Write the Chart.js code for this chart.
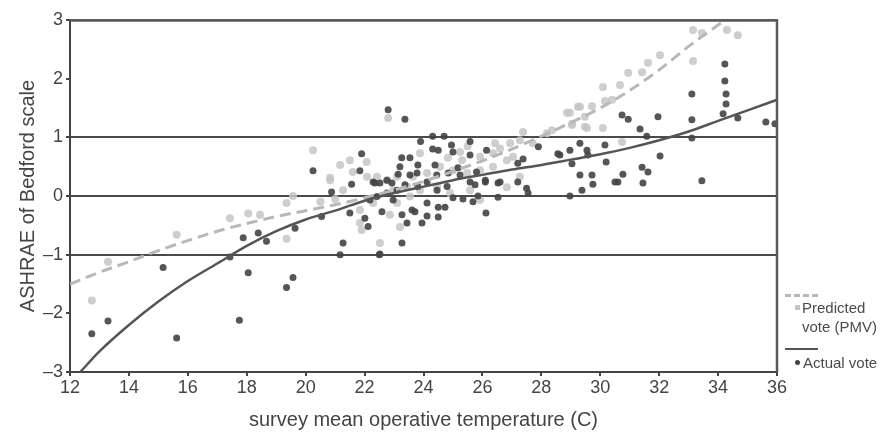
<!DOCTYPE html>
<html>
<head>
<meta charset="utf-8">
<script src="https://cdn.jsdelivr.net/npm/chart.js@4.4.0/dist/chart.umd.min.js"></script>
<style>
  html, body { margin: 0; padding: 0; background: #fff; }
  #wrap { position: relative; width: 893px; height: 434px; }
  canvas { display: block; }
  .lg { position: absolute; font-family: "Liberation Sans", Arial, sans-serif; font-size: 15px; color: #4a4a4a; line-height: 19px; }
  .ln { position: absolute; height: 0; }
  #topframe { position: absolute; left: 70px; top: 19px; width: 708px; height: 2px; background: #5a5a5a; }
</style>
</head>
<body>
<div id="wrap">
  <canvas id="c" width="893" height="434"></canvas>
  <div id="topframe"></div>
  <div class="ln" style="left:785px; top:294px; width:33px; border-top:3px dashed #b8b8b8;"></div>
  <div class="ln" style="left:795px; top:305px; width:5px; height:5px; background:#c4c4c4;"></div>
  <div class="lg" style="left:802px; top:298px;">Predicted<br>vote (PMV)</div>
  <div class="ln" style="left:785px; top:348px; width:33px; border-top:2px solid #555;"></div>
  <div class="ln" style="left:795px; top:360px; width:5px; height:5px; border-radius:3px; background:#444;"></div>
  <div class="lg" style="left:803px; top:353px;">Actual vote</div>
</div>
<script>
// ---- data ----
const xTicks = [12, 14, 16, 18, 20, 22, 24, 26, 28, 30, 32, 34, 36];
const yTicks = [-3, -2, -1, 0, 1, 2, 3];

const pmvX = [12.74,13.29,15.62,17.43,18.05,18.45,19.35,19.35,19.57,20.25,20.83,21.17,21.5,22.07,21.6,21.84,21.9,21.27,
  28.97,29.31,29.04,29.55,29.72,30.09,30.16,30.09,30.4,30.67,30.95,31.42,31.62,32.03,33.15,33.15,33.45,34.3,34.67,30.74,
  28.36,29.24,28.87,29.48,29.48,29.04,28.19,27.38,26.94,26.6,26.36,25.92,25.31,24.83,25.24,24.56,23.88,26.83,27.04,27.27,
  26.36,25.92,25.48,25.0,24.12,23.64,23.1,22.76,22.42,22.08,20.83,26.83,25.92,24.46,23.88,23.44,22.97,22.52,23.2,22.86,
  26.43,27.71,24.9,25.58,27.27,23.54,23.1,22.29,21.84,22.8,20.5,21.0,25.5];
const pmvY = [-1.78,-1.12,-0.66,-0.38,-0.3,-0.32,-0.73,-0.12,0.0,0.78,0.31,0.53,0.61,0.58,0.41,-0.24,-0.58,0.1,
  1.42,1.52,1.23,1.16,1.53,1.86,1.62,1.16,1.64,1.89,2.1,2.11,2.27,2.4,2.3,2.83,2.78,2.83,2.74,0.92,
  1.12,1.52,1.42,1.35,1.18,1.21,1.07,1.09,0.9,0.81,0.73,0.67,0.61,0.65,0.75,0.5,0.73,0.61,0.67,0.95,
  0.5,0.44,0.39,0.44,0.39,0.33,0.33,0.27,0.33,0.33,0.27,0.15,-0.07,0.16,0.1,0.16,0.1,-0.8,-0.53,-0.32,
  0.9,0.9,0.05,0.1,0.33,-0.01,-0.12,-0.12,-0.46,1.33,-0.1,-0.05,0.85];

const actualX = [12.74,13.29,15.16,15.62,17.88,18.39,18.05,17.75,18.67,17.43,19.35,19.57,19.64,20.25,20.88,21.9,21.84,21.56,
  21.5,22.01,22.12,21.27,21.17,20.54,22.35,22.8,23.37,24.31,24.7,23.9,25.58,24.95,24.31,24.5,25.0,23.26,23.54,25.58,26.14,
  27.2,27.38,27.9,26.53,27.2,27.5,27.55,25.75,26.1,25.85,25.34,25.0,26.53,26.12,25.68,28.97,28.63,28.97,29.31,29.55,29.04,
  29.31,29.72,29.75,29.38,23.14,23.78,24.45,24.84,25.17,25.24,25.8,25.58,26.1,26.6,28.56,24.73,24.5,24.5,24.12,23.71,23.61,
  23.27,23.44,23.95,22.59,23.27,22.52,24.12,22.97,22.76,22.42,22.18,23.1,23.37,22.76,22.93,23.81,24.12,24.46,24.8,22.52,
  22.29,23.54,23.2,23.81,24.39,30.74,30.95,31.96,33.11,33.11,33.11,34.23,34.23,34.27,34.27,34.17,34.67,35.62,35.93,31.35,
  31.58,32.03,31.42,31.62,31.45,33.45,30.77,30.6,30.5,30.16,30.2,29.58,22.5];
const actualY = [-2.35,-2.13,-1.22,-2.42,-0.71,-0.63,-1.31,-2.12,-0.77,-1.04,-1.56,-1.39,-0.55,0.43,0.07,0.72,0.43,0.2,
  -0.29,-0.38,-0.52,-0.8,-1.0,-0.35,0.22,1.47,1.31,1.02,1.02,0.93,0.93,0.87,0.8,0.78,0.75,0.65,0.65,0.7,0.78,
  0.56,0.63,0.84,0.22,0.24,0.13,0.05,0.19,0.24,0.0,-0.05,-0.03,-0.02,-0.29,-0.1,0.0,0.7,0.78,0.9,0.78,0.55,
  0.36,0.36,0.2,0.1,0.37,0.39,0.36,0.39,0.48,0.36,0.41,0.24,0.27,0.24,0.72,-0.19,-0.19,-0.36,-0.34,-0.27,-0.24,
  -0.32,-0.46,-0.46,-0.27,-0.8,-0.99,-0.12,-0.07,0.05,-0.01,-0.07,0.1,0.19,0.27,0.22,0.16,0.24,0.1,0.16,0.22,
  0.24,0.36,0.5,0.53,0.53,1.38,1.31,1.35,1.74,1.3,0.99,2.25,1.96,1.74,1.57,1.4,1.33,1.26,1.23,1.14,
  1.02,0.68,0.49,0.41,0.22,0.26,0.37,0.24,0.24,0.87,0.58,0.7,-1.0];

const pmvCurveX = [12,13,14,15,16,17,18,19,20,21,22,23,24,25,26,27,28,29,30,31,32,33,34.1];
const pmvCurveY = [-1.5,-1.3,-1.12,-0.93,-0.76,-0.6,-0.47,-0.35,-0.25,-0.15,-0.03,0.1,0.25,0.42,0.6,0.8,1.02,1.25,1.5,1.8,2.15,2.55,2.95];

const actualCurveX = [12.35,13,14,15,16,17,18,19,20,21,22,23,24,25,26,27,28,29,30,31,32,33,34,35,36];
const actualCurveY = [-3,-2.65,-2.2,-1.8,-1.45,-1.15,-0.85,-0.6,-0.4,-0.25,-0.08,0.05,0.16,0.27,0.36,0.45,0.53,0.62,0.71,0.82,0.95,1.1,1.28,1.46,1.64];

const xTitle = 'survey mean operative temperature (C)';
const yTitle = 'ASHRAE of Bedford scale';

// ---- build ----
const zip = (xs, ys) => xs.map((x, i) => ({ x: x, y: ys[i] }));
const FONT = '"Liberation Sans", Arial, sans-serif';

// frame on top and right of the plot area
const framePlugin = {
  id: 'frame',
  afterDraw(chart) {
    const ctx = chart.ctx;
    const a = chart.chartArea;
    ctx.save();
    ctx.setLineDash([]);
    ctx.strokeStyle = '#5a5a5a';
    ctx.lineWidth = 2.5;
    ctx.beginPath();
    ctx.moveTo(a.left, a.top + 0.5);
    ctx.lineTo(a.right, a.top + 0.5);
    ctx.moveTo(a.right, a.top);
    ctx.lineTo(a.right, a.bottom);
    ctx.stroke();
    ctx.restore();
  }
};

new Chart(document.getElementById('c'), {
  type: 'scatter',
  data: {
    datasets: [
      { label: 'Predicted vote (PMV)', data: zip(pmvX, pmvY), backgroundColor: 'rgba(198,198,198,0.85)',
        borderWidth: 0, pointRadius: 4, pointStyle: 'circle', order: 4 },
      { label: 'Actual vote', data: zip(actualX, actualY), backgroundColor: 'rgba(68,68,68,0.9)',
        borderWidth: 0, pointRadius: 3.5, order: 3 },
      { label: 'PMV fit', data: zip(pmvCurveX, pmvCurveY), showLine: true, borderColor: '#b8b8b8',
        borderWidth: 3, borderDash: [11, 6], pointRadius: 0, tension: 0.4, cubicInterpolationMode: 'monotone', order: 2 },
      { label: 'Actual fit', data: zip(actualCurveX, actualCurveY), showLine: true, borderColor: '#555',
        borderWidth: 2.5, pointRadius: 0, tension: 0.4, cubicInterpolationMode: 'monotone', order: 1 }
    ]
  },
  plugins: [framePlugin],
  options: {
    responsive: false,
    animation: false,
    layout: { padding: { top: 20, right: 116, left: 0, bottom: 0 } },
    plugins: { legend: { display: false }, tooltip: { enabled: false } },
    scales: {
      x: {
        type: 'linear', min: 12, max: 36,
        afterBuildTicks: s => { s.ticks = xTicks.map(v => ({ value: v })); },
        afterFit: s => { s.height = 62; },
        ticks: { color: '#444', font: { family: FONT, size: 18 }, padding: 1, maxRotation: 0 },
        grid: {
          color: 'rgba(0,0,0,0)',
          lineWidth: 2, tickLength: 4, tickColor: '#444', tickWidth: 2
        },
        border: { display: true, color: '#444', width: 2 },
        title: { display: true, text: xTitle, color: '#444', font: { family: FONT, size: 20 }, padding: { top: 0, bottom: 2 } }
      },
      y: {
        type: 'linear', min: -3, max: 3,
        afterBuildTicks: s => { s.ticks = yTicks.map(v => ({ value: v })); },
        afterFit: s => { s.width = 70; },
        ticks: { color: '#444', font: { family: FONT, size: 18 }, padding: 3,
          callback: v => (v < 0 ? '\u2013' + Math.abs(v) : String(v)) },
        grid: {
          color: c => (c.tick && [-1, 0, 1, 3].includes(c.tick.value)) ? '#4a4a4a' : 'rgba(0,0,0,0)',
          lineWidth: 2, tickLength: 4, tickColor: '#444', tickWidth: 2
        },
        border: { display: true, color: '#444', width: 2 },
        title: { display: true, text: yTitle, color: '#444', font: { family: FONT, size: 20 }, padding: { top: 16, bottom: 0 } }
      }
    }
  }
});
</script>
</body>
</html>
